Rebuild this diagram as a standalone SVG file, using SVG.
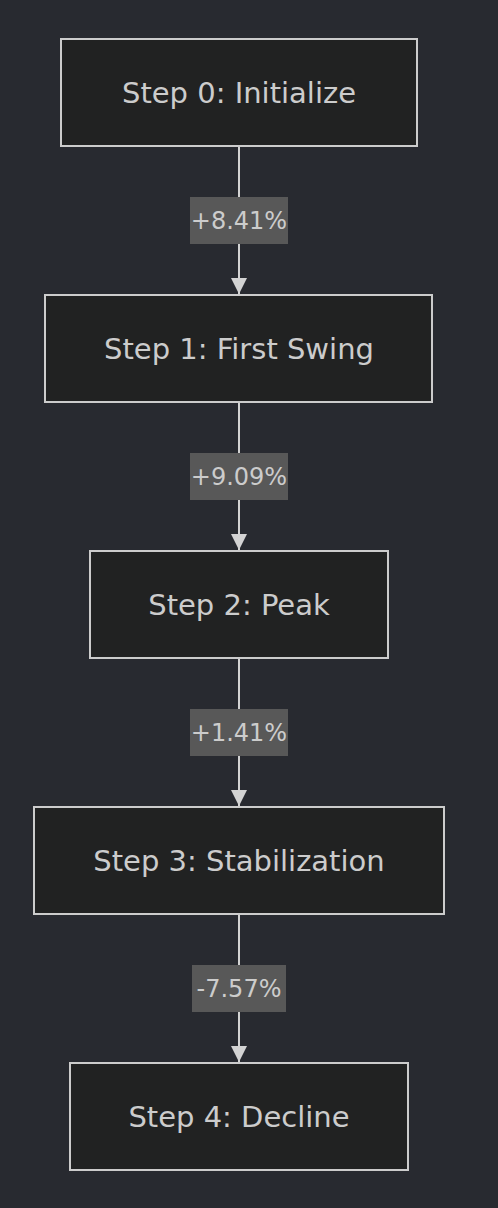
<svg xmlns="http://www.w3.org/2000/svg" width="498" height="1208" viewBox="0 0 498 1208">
<defs>
<style>
.node rect{fill:#212222;stroke:#cccccc;stroke-width:2}
.node text{fill:#cccccc;font-family:"DejaVu Sans",sans-serif;font-size:29px;text-anchor:middle;dominant-baseline:central}
.edge line{stroke:#d3d3d3;stroke-width:2}
.lbl rect{fill:#585858}
.lbl text{fill:#cccccc;font-family:"DejaVu Sans",sans-serif;font-size:24px;text-anchor:middle;dominant-baseline:central}
</style>
<marker id="arr" viewBox="0 0 16 16" refX="16" refY="8" markerWidth="16" markerHeight="16" markerUnits="userSpaceOnUse" orient="auto">
<path d="M0,0 L16,8 L0,16 z" fill="#d3d3d3"/>
</marker>
</defs>
<rect width="498" height="1208" fill="#282a30"/>
<g id="connectors">
<g class="edge"><line x1="239" y1="147" x2="239" y2="294" marker-end="url(#arr)"/></g>
<g class="edge"><line x1="239" y1="403" x2="239" y2="550" marker-end="url(#arr)"/></g>
<g class="edge"><line x1="239" y1="659" x2="239" y2="806" marker-end="url(#arr)"/></g>
<g class="edge"><line x1="239" y1="915" x2="239" y2="1062" marker-end="url(#arr)"/></g>
<g class="lbl"><rect x="190" y="197" width="98" height="47"/><text x="239" y="221">+8.41%</text></g>
<g class="lbl"><rect x="190" y="453" width="98" height="47"/><text x="239" y="477">+9.09%</text></g>
<g class="lbl"><rect x="190" y="709" width="98" height="47"/><text x="239" y="733">+1.41%</text></g>
<g class="lbl"><rect x="192" y="965" width="94" height="47"/><text x="239" y="989">-7.57%</text></g>
</g>
<g id="n0" class="node"><rect x="61" y="39" width="356" height="107"/><text x="239" y="93">Step 0: Initialize</text></g>
<g id="n1" class="node"><rect x="45" y="295" width="387" height="107"/><text x="239" y="349">Step 1: First Swing</text></g>
<g id="n2" class="node"><rect x="90" y="551" width="298" height="107"/><text x="239" y="605">Step 2: Peak</text></g>
<g id="n3" class="node"><rect x="34" y="807" width="410" height="107"/><text x="239" y="861">Step 3: Stabilization</text></g>
<g id="n4" class="node"><rect x="70" y="1063" width="338" height="107"/><text x="239" y="1117">Step 4: Decline</text></g>
</svg>
